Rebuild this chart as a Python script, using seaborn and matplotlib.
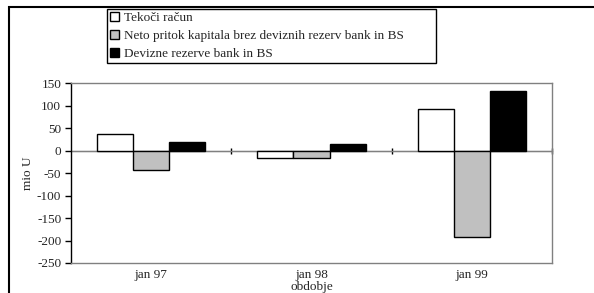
import pandas as pd
import matplotlib.pyplot as plt
import seaborn as sns
from matplotlib.patches import Rectangle

# Podatki (mio USD), odčitani s slike
obdobja = ["jan 97", "jan 98", "jan 99"]
tekoci_racun = [37, -17, 93]
neto_pritok = [-44, -17, -193]
devizne_rezerve = [20, 14, 132]

serije = ["Tekoči račun",
          "Neto pritok kapitala brez deviznih rezerv bank in BS",
          "Devizne rezerve bank in BS"]
barve = ["white", "#C0C0C0", "black"]

df = pd.DataFrame({
    "obdobje": obdobja * 3,
    "serija": [serije[0]] * 3 + [serije[1]] * 3 + [serije[2]] * 3,
    "vrednost": tekoci_racun + neto_pritok + devizne_rezerve,
})

sns.set_style("white")
plt.rcParams['font.family'] = ['Liberation Serif', 'DejaVu Serif']
plt.rcParams['axes.unicode_minus'] = False
fs = 9.5

fig = plt.figure(figsize=(5.94, 2.93), dpi=100)
ax = fig.add_axes([0.1195, 0.1024, 0.8098, 0.6133])

ax.axhline(0, color="#808080", linewidth=1, zorder=0.5)
sns.barplot(data=df, x="obdobje", y="vrednost", hue="serija", order=obdobja,
            hue_order=serije, palette=barve, saturation=1, edgecolor="black",
            linewidth=1, width=0.675, gap=0, ax=ax)

ax.set_xlim(-0.5, 2.5)
ax.set_ylim(-250, 150)
ax.set_yticks(range(-250, 151, 50))

for s in ["top", "right", "bottom"]:
    ax.spines[s].set_color("#808080")
    ax.spines[s].set_linewidth(1)
ax.spines["left"].set_color("black")
ax.spines["left"].set_linewidth(1)

ax.tick_params(axis="y", direction="out", length=4, width=1, color="black",
               labelsize=fs, pad=3, left=True)
ax.tick_params(axis="x", length=0, labelsize=fs, pad=4)
ax.set_xlabel("obdobje", fontsize=fs, labelpad=0)
ax.set_ylabel("mio U", fontsize=fs, labelpad=2)

# oznake med kategorijami na osi pri vrednosti 0
sec = ax.secondary_xaxis(250 / 400)
sec.set_xticks([0.5, 1.5, 2.5])
sec.set_xticklabels([])
sec.tick_params(direction="inout", length=5, width=1, color="black")
sec.spines["bottom"].set_visible(False)

handles, labels = ax.get_legend_handles_labels()
ax.get_legend().remove()
fig.legend(handles, labels, loc="upper left",
           bbox_to_anchor=(0.18, 0.785, 0.554, 0.184), mode="expand",
           borderaxespad=0, fontsize=fs, frameon=True, fancybox=False,
           edgecolor="black", framealpha=1, handlelength=0.7,
           handleheight=0.7, handletextpad=0.4, labelspacing=0.45,
           borderpad=0.2)
fig.legends[0].get_frame().set_linewidth(1)

fig.patches.append(Rectangle((9 / 594, -0.05), 1.0, 1 - 7 / 293 + 0.05,
                             transform=fig.transFigure, fill=False,
                             edgecolor="black", linewidth=1.5))

fig.savefig("out.png", dpi=100)
